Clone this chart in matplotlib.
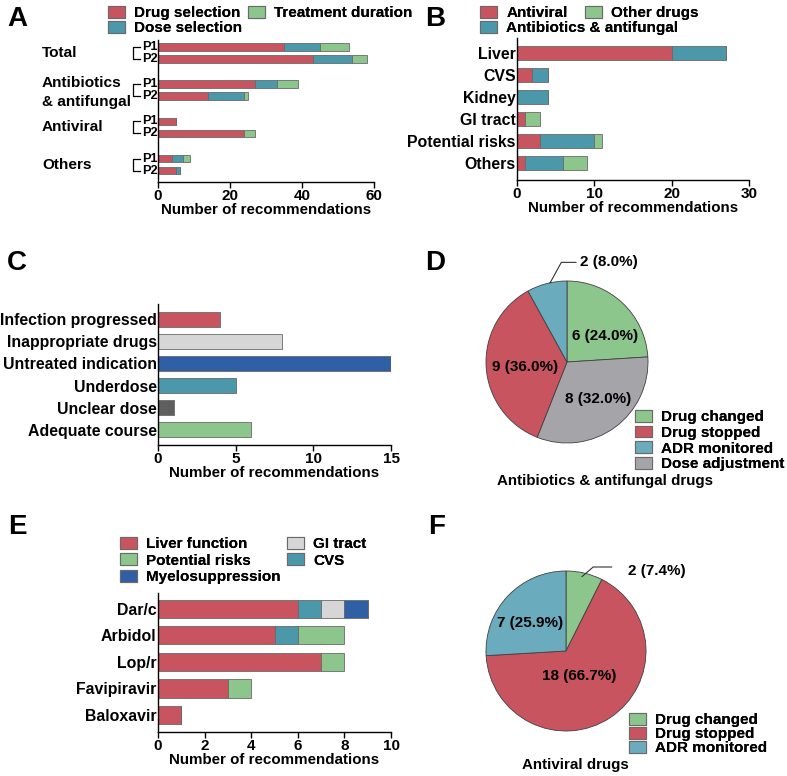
import matplotlib.pyplot as plt
import matplotlib.transforms as mtransforms
from matplotlib.patches import Patch
import numpy as np

plt.rcParams['font.family'] = ['Liberation Sans', 'DejaVu Sans']
plt.rcParams['font.weight'] = 'bold'
plt.rcParams['axes.labelweight'] = 'bold'

RED = '#c8545f'
TEAL = '#4b98aa'
GREEN = '#8dc68c'
LGRAY = '#d6d6d6'
DBLUE = '#2f5fa4'
DGRAY = '#5f5f5f'
PTEAL = '#6aabbd'
PGRAY = '#a5a5a9'
EDGE = '#6a6a6a'

# ---- data ----
# A: recommendations per period
a_groups = ['Total', 'Antibiotics\n& antifungal', 'Antiviral', 'Others']
a_periods = ['P1', 'P2']
a_drug = [35, 43, 27, 14, 5, 24, 4, 5]
a_dose = [10, 11, 6, 10, 0, 0, 3, 1]
a_duration = [8, 4, 6, 1, 0, 3, 2, 0]

# B: ADR-related recommendations by organ
b_cats = ['Liver', 'CVS', 'Kidney', 'GI tract', 'Potential risks', 'Others']
b_antiviral = [20, 2, 0, 1, 3, 1]
b_antibiotic = [7, 2, 4, 0, 7, 5]
b_other = [0, 0, 0, 2, 1, 3]

# C: reasons
c_cats = ['Infection progressed', 'Inappropriate drugs', 'Untreated indication',
          'Underdose', 'Unclear dose', 'Adequate course']
c_vals = [4, 8, 15, 5, 1, 6]
c_colors = [RED, LGRAY, DBLUE, TEAL, DGRAY, GREEN]

# D: antibiotics & antifungal outcomes (clockwise from top)
d_labels = ['Drug changed', 'Dose adjustment', 'Drug stopped', 'ADR monitored']
d_vals = [6, 8, 9, 2]
d_colors = [GREEN, PGRAY, RED, PTEAL]

# E: antiviral drugs
e_drugs = ['Dar/c', 'Arbidol', 'Lop/r', 'Favipiravir', 'Baloxavir']
e_liver = [6, 5, 7, 3, 1]
e_cvs = [1, 1, 0, 0, 0]
e_gi = [1, 0, 0, 0, 0]
e_myelo = [1, 0, 0, 0, 0]
e_risk = [0, 2, 1, 1, 0]

# F: antiviral outcomes
f_labels = ['Drug changed', 'Drug stopped', 'ADR monitored']
f_vals = [2, 18, 7]
f_colors = [GREEN, RED, PTEAL]

W, H = 787, 776
fig = plt.figure(figsize=(W / 100, H / 100), dpi=100)


def px_axes(x0, y0, x1, y1):
    return fig.add_axes([x0 / W, 1 - y1 / H, (x1 - x0) / W, (y1 - y0) / H])


def style(ax, ticks):
    ax.spines['top'].set_visible(False)
    ax.spines['right'].set_visible(False)
    ax.spines['left'].set_linewidth(1)
    ax.spines['bottom'].set_linewidth(1)
    ax.set_xticks(ticks)
    ax.set_xlim(ticks[0], ticks[-1])
    ax.tick_params(axis='x', length=4, width=1, labelsize=11, pad=1)
    ax.tick_params(axis='y', length=0, labelsize=11.4, pad=1)
    for t in ax.get_xticklabels() + ax.get_yticklabels():
        t.set_fontweight('bold')
    ax.set_xlabel('Number of recommendations', fontsize=10.9, labelpad=0)


def legend(items, x, y, spacing=0.05):
    handles = [Patch(facecolor=c, edgecolor=EDGE, linewidth=0.8, label=l) for c, l in items]
    leg = fig.legend(handles=handles, loc='upper left', bbox_to_anchor=(x / W, 1 - y / H),
                     frameon=False, borderpad=0, borderaxespad=0,
                     handlelength=1.1, handleheight=0.8, handletextpad=0.62,
                     labelspacing=spacing, prop={'size': 11, 'weight': 'bold'})
    fig.add_artist(leg)


bar_kw = dict(edgecolor=EDGE, linewidth=0.6)

# ---- Panel A ----
axA = px_axes(158, 40, 374, 182)
a_pos = np.array([g * 3.1 + p for g in range(len(a_groups)) for p in range(2)])
drug = np.array(a_drug)
dose = np.array(a_dose)
dur = np.array(a_duration)
axA.barh(a_pos, drug, height=0.64, color=RED, **bar_kw)
axA.barh(a_pos, dose, left=drug, height=0.64, color=TEAL, **bar_kw)
axA.barh(a_pos, dur, left=drug + dose, height=0.64, color=GREEN, **bar_kw)
axA.set_ylim(11.25, -0.58)
axA.set_yticks([])
style(axA, [0, 20, 40, 60])
trA = mtransforms.blended_transform_factory(axA.transAxes, axA.transData)
for g, name in enumerate(a_groups):
    y1, y2 = a_pos[2 * g], a_pos[2 * g + 1]
    axA.plot([-0.083, -0.116, -0.116, -0.083], [y1, y1, y2, y2], color='black',
             lw=0.9, transform=trA, clip_on=False)
    for p, lab in enumerate(a_periods):
        axA.text(-0.003, a_pos[2 * g + p], lab, transform=trA, ha='right', va='center',
                 fontsize=9.2, fontweight='bold')
    axA.text(-0.537, (y1 + y2) / 2 + (0.2 if '\n' in name else 0), name, transform=trA,
             ha='left', va='center', fontsize=11.1, fontweight='bold', linespacing=1.4)
legend([(RED, 'Drug selection'), (TEAL, 'Dose selection')], 108, 6, 0.07)
legend([(GREEN, 'Treatment duration')], 248, 6)

# ---- Panel B ----
axB = px_axes(517, 38, 749, 180)
b_pos = np.arange(len(b_cats))
bv = np.array(b_antiviral)
ba = np.array(b_antibiotic)
bo = np.array(b_other)
axB.barh(b_pos, bv, height=0.64, color=RED, **bar_kw)
axB.barh(b_pos, ba, left=bv, height=0.64, color=TEAL, **bar_kw)
axB.barh(b_pos, bo, left=bv + ba, height=0.64, color=GREEN, **bar_kw)
axB.set_ylim(5.77, -0.68)
axB.set_yticks(b_pos)
axB.set_yticklabels(b_cats)
style(axB, [0, 10, 20, 30])
legend([(RED, 'Antiviral'), (TEAL, 'Antibiotics & antifungal')], 480, 6, 0.07)
legend([(GREEN, 'Other drugs')], 585, 6)

# ---- Panel C ----
axC = px_axes(158, 304, 391, 445)
c_pos = np.arange(len(c_cats))
axC.barh(c_pos, c_vals, height=0.68, color=c_colors, **bar_kw)
axC.set_ylim(5.68, -0.68)
axC.set_yticks(c_pos)
axC.set_yticklabels(c_cats)
style(axC, [0, 5, 10, 15])

# ---- Panel E ----
axE = px_axes(158, 593, 391, 732)
e_pos = np.arange(len(e_drugs))
left = np.zeros(len(e_drugs))
for vals, col in [(e_liver, RED), (e_cvs, TEAL), (e_gi, LGRAY), (e_myelo, DBLUE), (e_risk, GREEN)]:
    axE.barh(e_pos, vals, left=left, height=0.68, color=col, **bar_kw)
    left = left + np.array(vals)
axE.set_ylim(4.64, -0.6)
axE.set_yticks(e_pos)
axE.set_yticklabels(e_drugs)
style(axE, [0, 2, 4, 6, 8, 10])
legend([(RED, 'Liver function'), (GREEN, 'Potential risks'), (DBLUE, 'Myelosuppression')],
       120, 537, 0.15)
legend([(LGRAY, 'GI tract'), (TEAL, 'CVS')], 287, 537, 0.15)


# ---- Pies ----
def pie_axes(cx, cy, r):
    ax = px_axes(cx - r, cy - r, cx + r, cy + r)
    ax.axis('off')
    return ax


def pct_label(v, tot):
    return f'{v} ({100 * v / tot:.1f}%)'


axD = pie_axes(567, 362, 81)
axD.pie(d_vals, colors=d_colors, startangle=90, counterclock=False, radius=1,
        wedgeprops=dict(edgecolor='#404040', linewidth=0.6))
axD.set_xlim(-1, 1)
axD.set_ylim(-1, 1)
totD = sum(d_vals)
d_txt = [(0.47, 0.32), (0.38, -0.46), (-0.52, -0.06)]
for (tx, ty), v in zip(d_txt, d_vals[:3]):
    axD.text(tx, ty, pct_label(v, totD), ha='center', va='center', fontsize=11,
             fontweight='bold')
axD.plot([-0.21, -0.07, 0.11], [0.975, 1.23, 1.23], color='#333333', lw=0.8, clip_on=False)
axD.text(0.16, 1.23, pct_label(d_vals[3], totD), ha='left', va='center', fontsize=11,
         fontweight='bold')
legend([(GREEN, 'Drug changed'), (RED, 'Drug stopped'), (PTEAL, 'ADR monitored'),
        (PGRAY, 'Dose adjustment')], 635, 410, 0.1)
fig.text(605 / W, 1 - 481 / H, 'Antibiotics & antifungal drugs', ha='center', va='center',
         fontsize=10.9, fontweight='bold')

axF = pie_axes(566, 651, 80)
axF.pie(f_vals, colors=f_colors, startangle=90, counterclock=False, radius=1,
        wedgeprops=dict(edgecolor='#404040', linewidth=0.6))
axF.set_xlim(-1, 1)
axF.set_ylim(-1, 1)
totF = sum(f_vals)
axF.plot([0.2, 0.34, 0.57], [0.93, 1.05, 1.05], color='#333333', lw=0.8, clip_on=False)
axF.text(0.78, 1.0, pct_label(f_vals[0], totF), ha='left', va='center', fontsize=11,
         fontweight='bold')
axF.text(0.17, -0.31, pct_label(f_vals[1], totF), ha='center', va='center', fontsize=11,
         fontweight='bold')
axF.text(-0.45, 0.35, pct_label(f_vals[2], totF), ha='center', va='center', fontsize=11,
         fontweight='bold')
legend(list(zip(f_colors, f_labels)), 629, 713, 0.0)
fig.text(575 / W, 1 - 765 / H, 'Antiviral drugs', ha='center', va='center',
         fontsize=10.9, fontweight='bold')

# ---- Panel letters ----
for lab, x, y in [('A', 17, 19), ('B', 435, 19), ('C', 17, 263),
                  ('D', 435, 263), ('E', 17, 527), ('F', 437, 527)]:
    fig.text(x / W, 1 - y / H, lab, ha='center', va='center', fontsize=20, fontweight='bold')

fig.savefig('out.png', dpi=100)
